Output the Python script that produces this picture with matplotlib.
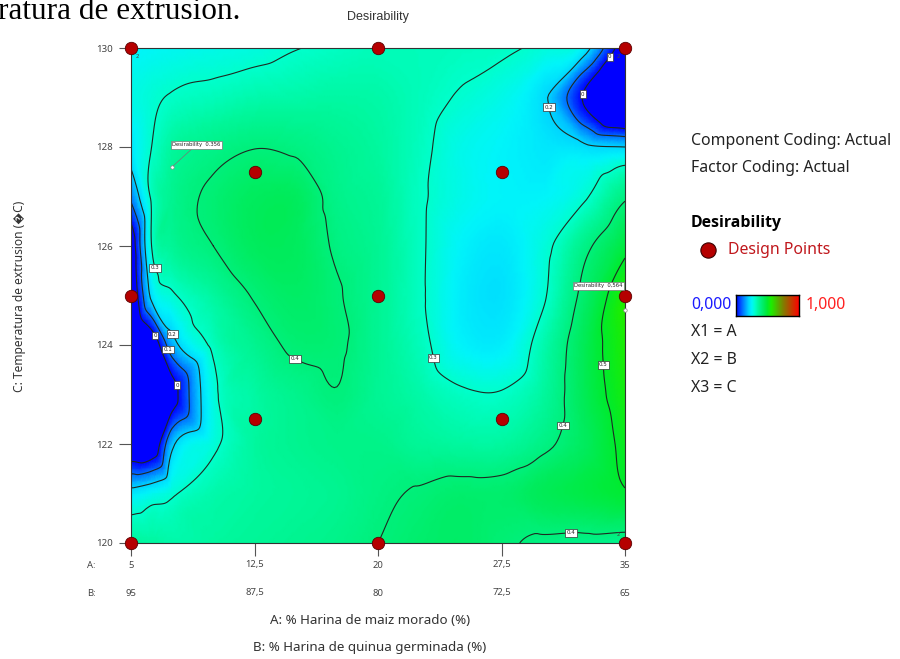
import numpy as np
import matplotlib
matplotlib.use('Agg')
import matplotlib.pyplot as plt
import matplotlib.tri as mtri
from matplotlib.colors import LinearSegmentedColormap
from matplotlib.lines import Line2D

# desirability, rows from C=130 (top) down to C=120
a_vals = [5, 6.25, 7.5, 10, 12.5, 15, 17.5, 20, 22.5, 25, 27.5, 30, 32.5, 35]
c_vals = [130, 129, 128, 127, 126, 125, 124, 123, 122, 121, 120]
d_130 = [0.25, 0.255, 0.26, 0.27, 0.28, 0.298, 0.31, 0.32, 0.32, 0.315, 0.31, 0.285, 0.24, -0.08]
d_129 = [0.27, 0.29, 0.305, 0.32, 0.335, 0.34, 0.345, 0.34, 0.32, 0.295, 0.27, 0.215, -0.01, -0.30]
d_128 = [0.23, 0.30, 0.35, 0.38, 0.398, 0.39, 0.37, 0.35, 0.315, 0.27, 0.25, 0.23, 0.215, 0.20]
d_127 = [0.12, 0.31, 0.37, 0.41, 0.44, 0.44, 0.38, 0.36, 0.31, 0.27, 0.25, 0.25, 0.29, 0.39]
d_126 = [-0.08, 0.30, 0.36, 0.40, 0.44, 0.44, 0.392, 0.365, 0.31, 0.25, 0.23, 0.28, 0.38, 0.48]
d_125 = [-0.12, 0.22, 0.29, 0.35, 0.405, 0.43, 0.405, 0.365, 0.31, 0.24, 0.22, 0.29, 0.42, 0.56]
d_124 = [-0.25, -0.10, 0.16, 0.315, 0.37, 0.41, 0.408, 0.365, 0.32, 0.25, 0.24, 0.33, 0.45, 0.555]
d_123 = [-0.30, -0.25, -0.05, 0.28, 0.345, 0.375, 0.398, 0.365, 0.34, 0.31, 0.305, 0.35, 0.45, 0.54]
d_122 = [-0.12, -0.10, 0.18, 0.285, 0.35, 0.37, 0.38, 0.38, 0.36, 0.35, 0.35, 0.385, 0.44, 0.52]
d_121 = [0.23, 0.26, 0.29, 0.335, 0.35, 0.36, 0.37, 0.39, 0.405, 0.42, 0.42, 0.45, 0.47, 0.495]
d_120 = [0.36, 0.35, 0.34, 0.35, 0.36, 0.37, 0.38, 0.40, 0.42, 0.43, 0.41, 0.39, 0.38, 0.37]

design_a = [5, 20, 35, 12.5, 27.5, 5, 20, 35, 12.5, 27.5, 5, 20, 35]
design_c = [130, 130, 130, 127.5, 127.5, 125, 125, 125, 122.5, 122.5, 120, 120, 120]
replicate_a = [5, 35, 35]
replicate_c = [130, 130, 120]

flag_a = [7.5, 35]
flag_c = [127.6, 124.7]
flag_text = ['Desirability  0.356', 'Desirability  0,564']

a_ticks = [5, 12.5, 20, 27.5, 35]
a_tick_labels = ['5', '12,5', '20', '27,5', '35']
b_tick_labels = ['95', '87,5', '80', '72,5', '65']
c_ticks = [120, 122, 124, 126, 128, 130]
levels = [0, 0.1, 0.2, 0.3, 0.4, 0.5]

# colour ramp similar to Design-Expert
cmap = LinearSegmentedColormap.from_list('dx', [
    (0.00, (0, 0, 1)),
    (0.10, (0, 0.43, 1)),
    (0.20, (0, 0.84, 1)),
    (0.25, (0, 0.96, 0.98)),
    (0.30, (0, 1, 0.80)),
    (0.35, (0, 0.97, 0.62)),
    (0.40, (0, 0.94, 0.48)),
    (0.45, (0, 0.92, 0.34)),
    (0.50, (0, 0.92, 0.18)),
    (0.56, (0.12, 0.93, 0)),
    (0.75, (0.5, 0.5, 0)),
    (1.00, (1, 0, 0)),
])

grid = np.array([d_130, d_129, d_128, d_127, d_126, d_125, d_124,
                 d_123, d_122, d_121, d_120])
A, C = np.meshgrid(a_vals, c_vals)
tri = mtri.Triangulation(A.ravel(), C.ravel())
interp = mtri.CubicTriInterpolator(tri, grid.ravel(), kind='geom')
refiner = mtri.UniformTriRefiner(tri)
tri_f, z_f = refiner.refine_field(grid.ravel(), triinterpolator=interp, subdiv=4)

fig = plt.figure(figsize=(9, 6.59), dpi=100)
ax = fig.add_axes([131/900, 116/659, 494/900, 495/659])

ax.tripcolor(tri_f, np.clip(z_f, 0, 1), shading='gouraud', cmap=cmap,
             vmin=0, vmax=1, rasterized=True)
cs = ax.tricontour(tri_f, z_f, levels=levels, colors='#1e2a22', linewidths=0.8)
ax.set_xlim(5, 35)
ax.set_ylim(120, 130)

label_pos = [(6.9, 125.6), (7.2, 123.9), (7.4, 124.2), (6.5, 124.2), (7.9, 123.2),
             (15.1, 123.8), (24.2, 123.8), (30.9, 122.4), (33.8, 123.6),
             (31.7, 120.3), (30.3, 128.8), (32.1, 129.1), (34.6, 129.7)]
ax.clabel(cs, levels, manual=label_pos, inline=False, fontsize=4,
          fmt=lambda v: f'{v:g}')
for t in cs.labelTexts:
    t.set_rotation(0)
    t.set_color('#222')
    t.set_bbox(dict(boxstyle='square,pad=0.25', fc='white', ec='#333', lw=0.5))

ax.scatter(design_a, design_c, s=80, c='#b50000', edgecolors='#5a0000',
           linewidths=0.6, zorder=5, clip_on=False)

for a, c in zip(replicate_a, replicate_c):
    ox = 6 if a == 5 else -7
    oy = -9 if c == 130 else 8
    ax.annotate('2', (a, c), xytext=(ox * 0.72, oy * 0.72), textcoords='offset points',
                fontsize=4, color='#444', ha='center', va='center', zorder=6)

ax.plot(flag_a, flag_c, 'o', ms=2.5, mfc='white', mec='#888', mew=0.5,
        zorder=6, clip_on=False)
ax.annotate(flag_text[0], (flag_a[0], flag_c[0]), xytext=(0, 14),
            textcoords='offset points', fontsize=3.8, color='#222',
            ha='left', va='bottom', zorder=7,
            bbox=dict(boxstyle='square,pad=0.3', fc='white', ec='#777', lw=0.5),
            arrowprops=dict(arrowstyle='-', color='#777', lw=0.5,
                            shrinkA=0, shrinkB=1))
ax.annotate(flag_text[1], (flag_a[1], flag_c[1]), xytext=(-1.5, 16),
            textcoords='offset points', fontsize=3.8, color='#222',
            ha='right', va='bottom', zorder=7,
            bbox=dict(boxstyle='square,pad=0.3', fc='white', ec='#777', lw=0.5))

for s in ax.spines.values():
    s.set_color('#333')
    s.set_linewidth(0.8)

ax.set_xticks(a_ticks)
ax.set_xticklabels([])
ax.set_yticks(c_ticks)
ax.set_yticklabels([str(c) for c in c_ticks], fontsize=7, color='#444',
                   family='Noto Sans')
ax.tick_params(axis='both', direction='out', length=9, width=0.8, color='#555',
               pad=4)

xt = ax.get_xaxis_transform()
for a, la, lb in zip(a_ticks, a_tick_labels, b_tick_labels):
    ax.text(a, -22/495, la, transform=xt, fontsize=6.8, color='#444',
            ha='center', va='center', family='Noto Sans')
    ax.text(a, -50/495, lb, transform=xt, fontsize=6.8, color='#444',
            ha='center', va='center', family='Noto Sans')
fig.text(91/900, 1 - 565/659, 'A:', fontsize=6.8, color='#444',
         ha='center', va='center', family='Noto Sans')
fig.text(91/900, 1 - 593/659, 'B:', fontsize=6.8, color='#444',
         ha='center', va='center', family='Noto Sans')

fig.text(370/900, 1 - 621/659, 'A: % Harina de maiz morado (%)', fontsize=9.6,
         color='#333', ha='center', va='center', family='Noto Sans')
fig.text(370/900, 1 - 647/659, 'B: % Harina de quinua germinada (%)', fontsize=9.6,
         color='#333', ha='center', va='center', family='Noto Sans')
fig.text(20/900, 1 - 296/659, 'C: Temperatura de extrusion (\ufffdC)', fontsize=8.6,
         color='#333', ha='center', va='center', rotation=90,
         family=['Noto Sans', 'DejaVu Sans'])
fig.text(378/900, 1 - 17/659, 'Desirability', fontsize=9, color='#333',
         ha='center', va='center', family='Liberation Sans')

fig.text(-2/900, 1 - 19/659, 'ratura de extrusion.', fontsize=22.5, color='black',
         ha='left', va='baseline', family='Liberation Serif')

# right-hand legend
lx = 691/900
fs = 11.4
fig.text(lx, 1 - 141/659, 'Component Coding: Actual', fontsize=fs, color='#222',
         va='center', family='Noto Sans')
fig.text(lx, 1 - 168/659, 'Factor Coding: Actual', fontsize=fs, color='#222',
         va='center', family='Noto Sans')
fig.text(lx, 1 - 223/659, 'Desirability', fontsize=fs, color='black',
         fontweight='bold', va='center', family='Open Sans')
fig.add_artist(Line2D([708/900], [1 - 250/659], marker='o', ms=11,
                      mfc='#b50000', mec='#3a0000', mew=0.8, ls='none'))
fig.text(728/900, 1 - 250/659, 'Design Points', fontsize=fs, color='#c0171c',
         va='center', family='Noto Sans')
fig.text(lx, 1 - 305/659, '0,000', fontsize=fs, color='#1a1aff',
         va='center', family='Noto Sans')
fig.text(806/900, 1 - 305/659, '1,000', fontsize=fs, color='#ff2020',
         va='center', family='Noto Sans')
cax = fig.add_axes([736/900, 1 - 316/659, 63/900, 21/659])
cax.imshow(np.linspace(0, 1, 256)[None, :], aspect='auto', cmap=cmap)
cax.set_xticks([])
cax.set_yticks([])
for s in cax.spines.values():
    s.set_linewidth(1.0)
for i, txt in enumerate(['X1 = A', 'X2 = B', 'X3 = C']):
    fig.text(lx, 1 - (332 + 28 * i)/659, txt, fontsize=fs, color='#222',
             va='center', family='Noto Sans')

fig.savefig('out.png', dpi=100)
